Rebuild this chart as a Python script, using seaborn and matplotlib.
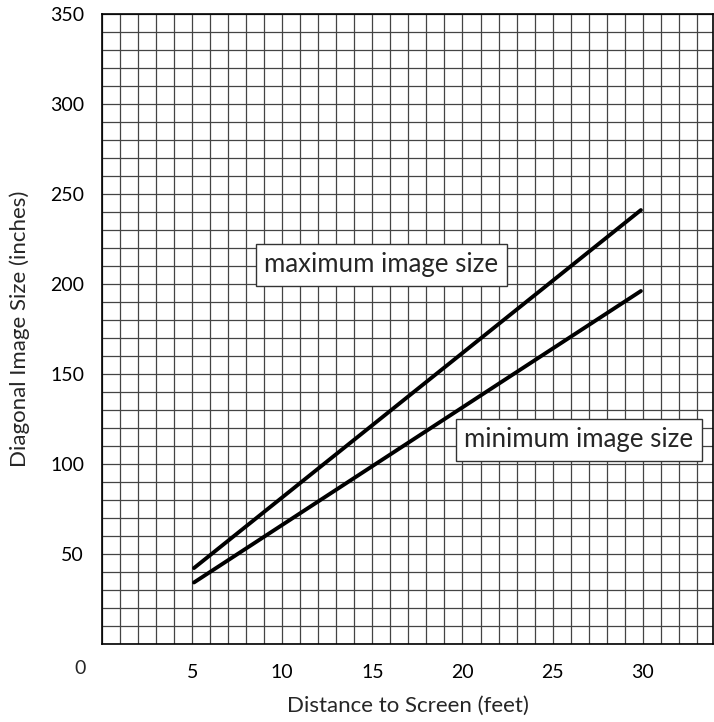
import pandas as pd
import matplotlib.pyplot as plt
import seaborn as sns
from matplotlib.ticker import MultipleLocator, FixedLocator

# Style
sns.set_theme(style="white")
plt.rcParams['font.family'] = ['Lato', 'DejaVu Sans']

# -------------------------
# Data
# -------------------------
distance_ft = [5.1, 29.9]
max_size_in = [42, 241]
min_size_in = [34, 196]
series_names = ["maximum image size", "minimum image size"]
x_ticks = [5, 10, 15, 20, 25, 30]
y_ticks = [50, 100, 150, 200, 250, 300, 350]

df = pd.DataFrame({
    "distance": distance_ft * 2,
    "size": max_size_in + min_size_in,
    "series": [series_names[0]] * len(distance_ft) + [series_names[1]] * len(distance_ft),
})

fig = plt.figure(figsize=(7.14, 7.22), dpi=100)
ax = fig.add_axes([0.1429, 0.1085, 0.8557, 0.8722])

sns.lineplot(data=df, x="distance", y="size", hue="series",
             palette=["black", "black"], linewidth=2.8, legend=False, ax=ax)

ax.set_xlim(0, 33.9)
ax.set_ylim(0, 350)

# grid: one cell per foot, one cell per 10 inches
ax.xaxis.set_minor_locator(MultipleLocator(1))
ax.yaxis.set_minor_locator(MultipleLocator(10))
ax.xaxis.set_major_locator(FixedLocator(x_ticks))
ax.yaxis.set_major_locator(FixedLocator(y_ticks))
ax.grid(True, which="both", color="#444444", linewidth=0.9)
ax.set_axisbelow(True)
ax.tick_params(which="both", length=0, labelsize=14, colors="black")
ax.tick_params(axis="x", pad=15)
ax.tick_params(axis="y", pad=13)

for side in ["left", "bottom", "top", "right"]:
    ax.spines[side].set_color("black")
    ax.spines[side].set_linewidth(1.2)

# shared zero in the corner
ax.text(-1.2, -14, "0", ha="center", va="center", fontsize=14, clip_on=False)

ax.set_xlabel("Distance to Screen (feet)", fontsize=16, labelpad=10)
ax.set_ylabel("Diagonal Image Size (inches)", fontsize=16, labelpad=14)

box = dict(boxstyle="square,pad=0.33", facecolor="white", edgecolor="#333333", linewidth=1)
ax.text(15.5, 210.7, series_names[0], ha="center", va="center", fontsize=18.6, bbox=box)
ax.text(26.46, 113.4, series_names[1], ha="center", va="center", fontsize=18.6, bbox=box)

plt.savefig("out.png", dpi=100)
plt.close()
